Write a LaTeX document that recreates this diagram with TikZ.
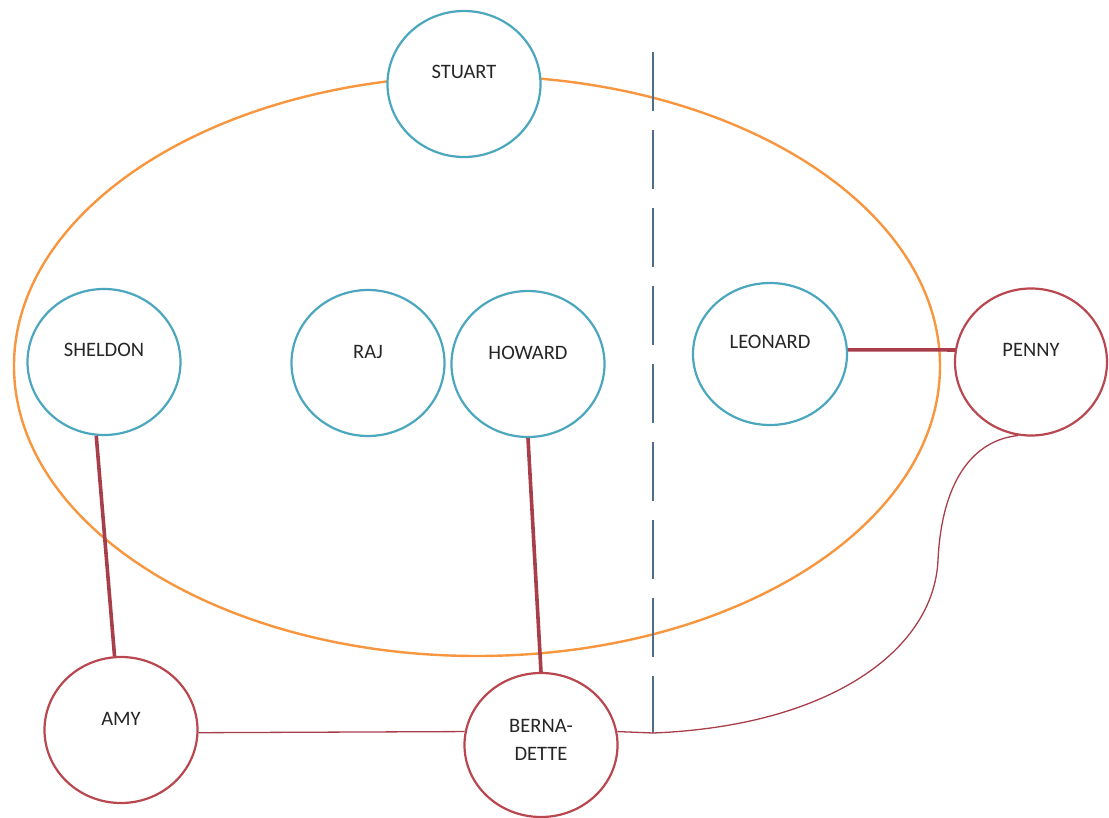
\documentclass[tikz,border=0pt]{standalone}
\usepackage{fontspec}
\setmainfont{Carlito}
\usetikzlibrary{shapes.geometric}
\definecolor{blueC}{HTML}{4BA7BE}
\definecolor{redC}{HTML}{B8474F}
\definecolor{lineC}{HTML}{A83E4A}
\definecolor{orangeC}{HTML}{F7963F}
\definecolor{dashC}{HTML}{4F6E8C}
\definecolor{txtC}{HTML}{262626}
\newcommand{\lifted}[1]{\raisebox{5pt}[0pt][0pt]{#1}}
\begin{document}
\begin{tikzpicture}[x=1pt,y=-1pt,
  person/.style={ellipse, draw, line width=2.2pt, fill=white, inner sep=0pt,
    minimum width=153pt, minimum height=146pt, text=txtC,
    font=\fontsize{20.5}{28}\selectfont},
  guy/.style={person, draw=blueC},
  girl/.style={person, draw=redC},
  thick link/.style={draw=lineC, line width=3.6pt},
  thin link/.style={draw=lineC, line width=1.3pt},
  group/.style={draw=orangeC, line width=2.4pt},
  divider/.style={draw=dashC, line width=1.6pt, dash pattern=on 59pt off 19pt}]
\useasboundingbox (0,0) rectangle (1109,818);
% group ellipse
\draw[group] (477,366) ellipse [x radius=463, y radius=290];
% divider
\coordinate (dtop) at (653,52);
\coordinate (junc) at (653,733);
\draw[divider] (dtop) -- (junc);
% people
\node[guy] (stuart)  at (464,84)  {\lifted{STUART}};
\node[guy] (sheldon) at (104,362) {\lifted{SHELDON}};
\node[guy] (raj)     at (368,363) {\lifted{RAJ}};
\node[guy] (howard)  at (528,364) {\lifted{HOWARD}};
\node[guy, minimum height=142pt, minimum width=154pt] (leonard) at (770,354) {\lifted{LEONARD}};
\node[girl, minimum width=152pt, minimum height=147pt] (penny) at (1031,362) {\lifted{PENNY}};
\node[girl] (amy) at (121,730) {\lifted{AMY}};
\node[girl, minimum height=144pt] (bern) at (541,745)
  {\raisebox{-15pt}[0pt][0pt]{\begin{tabular}[b]{@{}c@{}}BERNA-\\DETTE\end{tabular}}};
% links
\draw[thick link] (sheldon.264) -- (amy.95);
\draw[thick link] (howard.south) -- (bern.north);
\draw[thick link] (leonard.3) -- (penny.171);
\draw[thin link] (amy.-2) -- (bern.170);
\draw[thin link] (bern.10) -- (junc)
  .. controls (830,726) and (934,650) .. (938,560)
  .. controls (942,478) and (975,440) .. (penny.260);
\end{tikzpicture}
\end{document}
